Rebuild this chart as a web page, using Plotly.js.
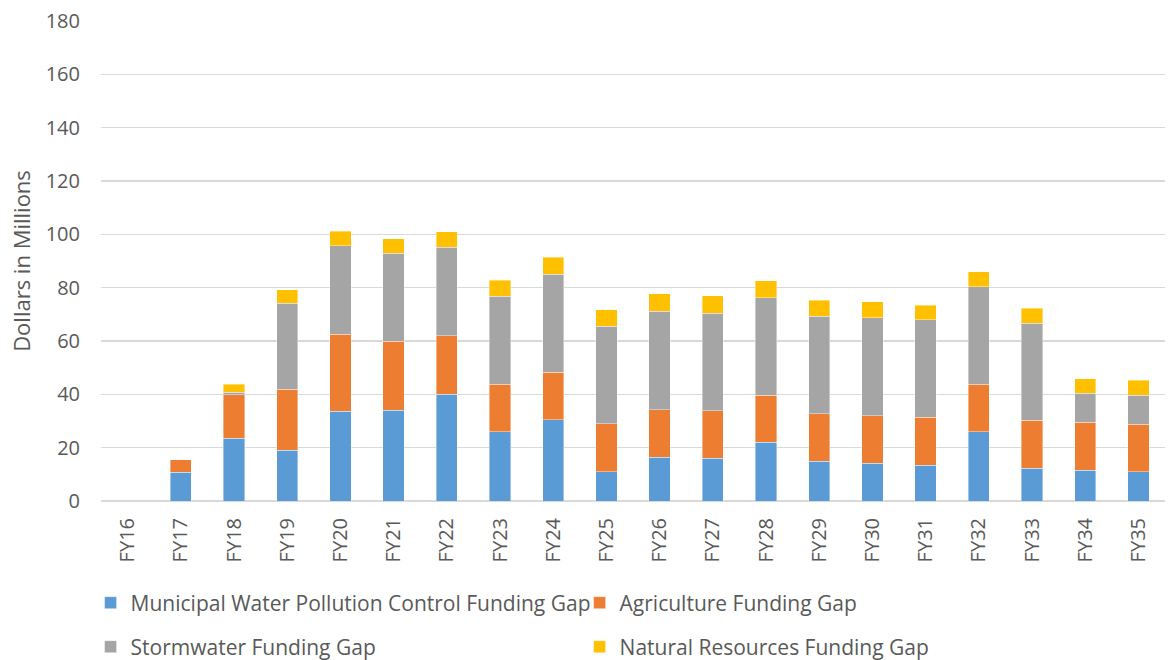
<!DOCTYPE html>
<html>
<head>
<meta charset="utf-8">
<script src="https://cdn.plot.ly/plotly-3.0.1.min.js"></script>
<style>html,body{margin:0;padding:0;background:#fff;}#chart{width:1169px;height:660px;}</style>
</head>
<body>
<div id="chart"></div>
<script>
const categories = ["FY16","FY17","FY18","FY19","FY20","FY21","FY22","FY23","FY24","FY25","FY26","FY27","FY28","FY29","FY30","FY31","FY32","FY33","FY34","FY35"];
const municipal  = [0, 10.8, 23.5, 19.1, 33.6, 34.1, 40.1, 26.0, 30.4, 10.9, 16.5, 16.0, 22.1, 14.9, 14.1, 13.5, 25.9, 12.3, 11.6, 10.9];
const agriculture= [0, 4.7, 16.3, 22.8, 28.9, 25.8, 21.9, 17.8, 17.9, 18.0, 17.8, 17.8, 17.6, 17.8, 17.9, 17.9, 17.9, 17.9, 17.9, 17.9];
const stormwater = [0, 0, 1.0, 32.2, 33.3, 33.0, 33.1, 33.0, 36.8, 36.6, 36.8, 36.6, 36.6, 36.6, 36.8, 36.6, 36.6, 36.5, 10.9, 10.9];
const natural    = [0, 0, 2.9, 5.1, 5.4, 5.4, 5.9, 5.9, 6.3, 6.3, 6.6, 6.5, 6.3, 5.9, 5.9, 5.5, 5.5, 5.6, 5.5, 5.6];
const seriesNames = ["Municipal Water Pollution Control Funding Gap","Agriculture Funding Gap","Stormwater Funding Gap","Natural Resources Funding Gap"];
const seriesColors = ["#5B9BD5","#ED7D31","#A5A5A5","#FFC000"];
const seriesValues = [municipal, agriculture, stormwater, natural];
const legendIds = ["legend","legend2","legend3","legend4"];

const traces = seriesValues.map((vals,i)=>({
  type:"bar", x:categories, y:vals, name:seriesNames[i],
  marker:{color:seriesColors[i], line:{color:"rgba(255,255,255,0.5)", width:0.8}},
  legend:legendIds[i], hoverinfo:"x+y+name"
}));

const fam = "Open Sans, sans-serif";
const font = {family:fam, size:21, color:"#595959"};
const colX = [-0.0098, 0.4498];
const rowY = [-0.2125, -0.3042];
function leg(col,row){
  return {orientation:"h", x:colX[col], xanchor:"left", y:rowY[row], yanchor:"middle",
          xref:"paper", yref:"paper", font:font, itemclick:false, bgcolor:"rgba(0,0,0,0)"};
}
const layout = {
  width:1169, height:660,
  margin:{l:101, r:4, t:21, b:159, autoexpand:false},
  barmode:"stack", bargap:0.6,
  paper_bgcolor:"#fff", plot_bgcolor:"#fff",
  font:font,
  xaxis:{type:"category", tickangle:-90, showgrid:false, showline:false, ticks:"", zeroline:false,
         tickfont:{family:fam, size:20, color:"#595959"}, ticklabelstandoff:12, automargin:false},
  yaxis:{range:[0,180], dtick:20, tick0:0, showgrid:true, gridcolor:"#D9D9D9", gridwidth:1.5,
         zeroline:true, zerolinecolor:"#D9D9D9", zerolinewidth:1.5, showline:false, ticks:"",
         tickfont:{family:fam, size:20, color:"#595959"}, ticklabelstandoff:20, automargin:false,
         title:{text:"Dollars in Millions", font:{family:fam, size:22, color:"#595959"}, standoff:8}},
  legend:leg(0,0), legend2:leg(1,0), legend3:leg(0,1), legend4:leg(1,1),
  showlegend:true
};
Plotly.newPlot("chart", traces, layout, {displayModeBar:false, staticPlot:true});
</script>
</body>
</html>
